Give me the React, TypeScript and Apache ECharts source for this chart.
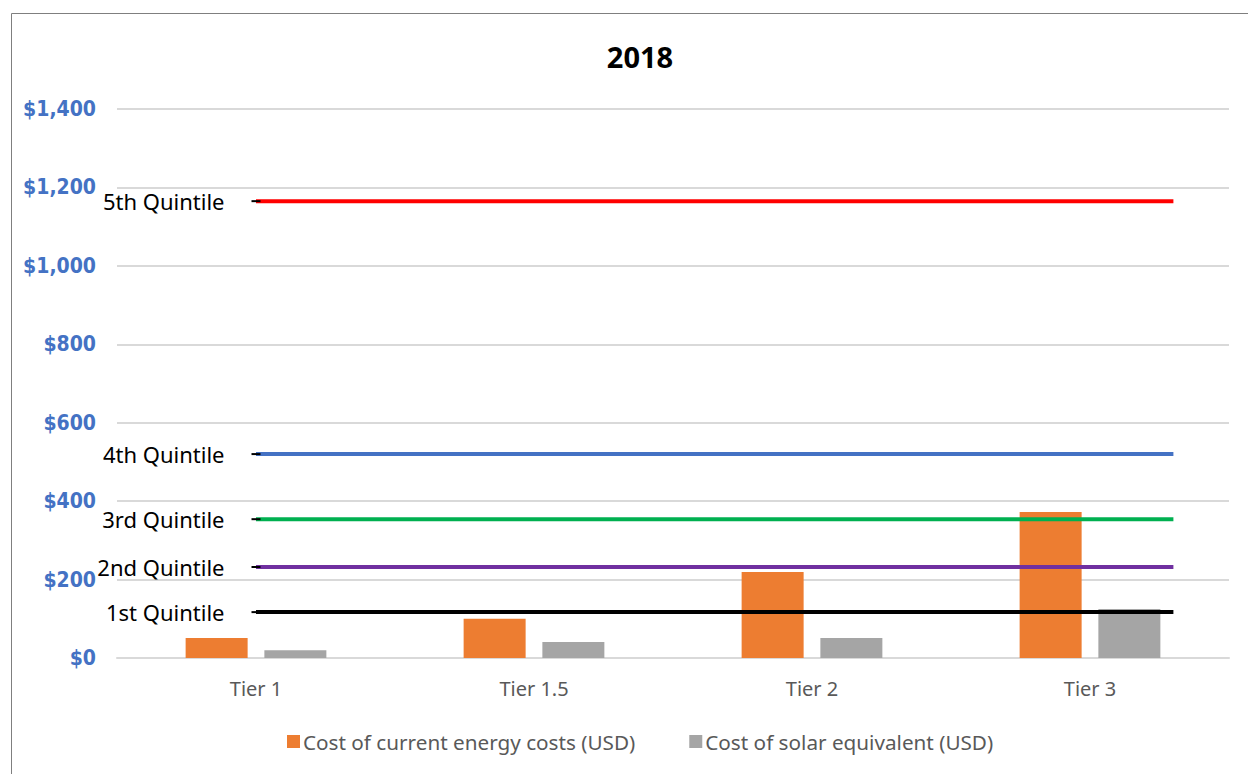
import React, { useEffect, useRef } from "react";
import * as echarts from "echarts";

const categories = ["Tier 1", "Tier 1.5", "Tier 2", "Tier 3"];
const currentCost = [51, 100, 219, 372];
const solarCost = [20, 41, 51, 125];
const quintileNames = ["5th Quintile", "4th Quintile", "3rd Quintile", "2nd Quintile", "1st Quintile"];
const quintileValues = [1165, 520, 354, 232, 117];
const quintileStart = 0.5;
const quintileEnd = 3.8;
const yTicks = { min: 0, max: 1400, interval: 200 };

const quintileColors = ["#FF0000", "#4472C4", "#00B050", "#7030A0", "#000000"];

export default function App() {
  const ref = useRef<HTMLDivElement>(null);
  useEffect(() => {
    if (!ref.current) return;
    const chart = echarts.init(ref.current, undefined, { renderer: "svg" });
    const sans = "'Noto Sans', 'Open Sans', sans-serif";
    const narrow = "'Liberation Sans Narrow', 'DejaVu Sans Condensed', 'Noto Sans', sans-serif";
    const lineSeries = quintileNames.map((name, i) => ({
      type: "line",
      name,
      xAxisIndex: 1,
      yAxisIndex: 0,
      symbol: "none",
      showSymbol: true,
      lineStyle: { color: quintileColors[i], width: 4 },
      itemStyle: { color: quintileColors[i] },
      z: 5,
      data: [
        {
          value: [quintileStart, quintileValues[i]],
          symbol: "rect",
          symbolSize: [9, 2],
          itemStyle: { color: "#000000" },
          label: {
            show: true,
            position: "left",
            distance: 27,
            formatter: name,
            color: "#000000",
            fontSize: 22,
            fontFamily: sans,
          },
        },
        { value: [quintileEnd, quintileValues[i]] },
      ],
    }));
    chart.setOption({
      animation: false,
      backgroundColor: "#ffffff",
      title: {
        text: "2018",
        left: 635,
        top: 37,
        textAlign: "center",
        textStyle: { fontSize: 29, fontWeight: "bold", color: "#000000", fontFamily: sans },
      },
      graphic: [
        {
          type: "rect",
          shape: { x: 11.5, y: 13.5, width: 1300, height: 800 },
          style: { fill: "none", stroke: "#7F7F7F", lineWidth: 1 },
          silent: true,
        },
      ],
      legend: {
        data: ["Cost of current energy costs (USD)", "Cost of solar equivalent (USD)"],
        left: 282,
        top: 726,
        icon: "rect",
        itemWidth: 13,
        itemHeight: 13,
        itemGap: 54,
        textStyle: { fontSize: 20.7, color: "#595959", fontFamily: sans, padding: [0, 0, 0, -2] },
      },
      grid: { left: 117, right: 19, top: 109, bottom: 116, containLabel: false },
      xAxis: [
        {
          type: "category",
          data: categories,
          axisLine: { show: true, lineStyle: { color: "#D9D9D9", width: 2 } },
          axisTick: { show: false },
          axisLabel: { color: "#595959", fontSize: 20, margin: 20, fontFamily: sans },
        },
        {
          type: "value",
          min: 0,
          max: categories.length,
          show: false,
        },
      ],
      yAxis: {
        type: "value",
        min: yTicks.min,
        max: yTicks.max,
        interval: yTicks.interval,
        axisLine: { show: false },
        axisTick: { show: false },
        splitLine: { lineStyle: { color: "#D9D9D9", width: 2 } },
        axisLabel: {
          color: "#4472C4",
          fontSize: 21,
          fontWeight: "bold",
          margin: 21,
          fontFamily: narrow,
          formatter: (v: number) => "$" + v.toLocaleString("en-US"),
        },
      },
      series: [
        {
          type: "bar",
          name: "Cost of current energy costs (USD)",
          data: currentCost,
          barWidth: 62,
          barGap: "27%",
          itemStyle: { color: "#ED7D31" },
          z: 2,
        },
        {
          type: "bar",
          name: "Cost of solar equivalent (USD)",
          data: solarCost,
          barWidth: 62,
          barGap: "27%",
          itemStyle: { color: "#A5A5A5" },
          z: 2,
        },
        ...lineSeries,
      ],
    });
    return () => chart.dispose();
  }, []);
  return (
    <div
      ref={ref}
      style={{ position: "fixed", left: 0, top: 0, width: 1248, height: 774 }}
    />
  );
}
